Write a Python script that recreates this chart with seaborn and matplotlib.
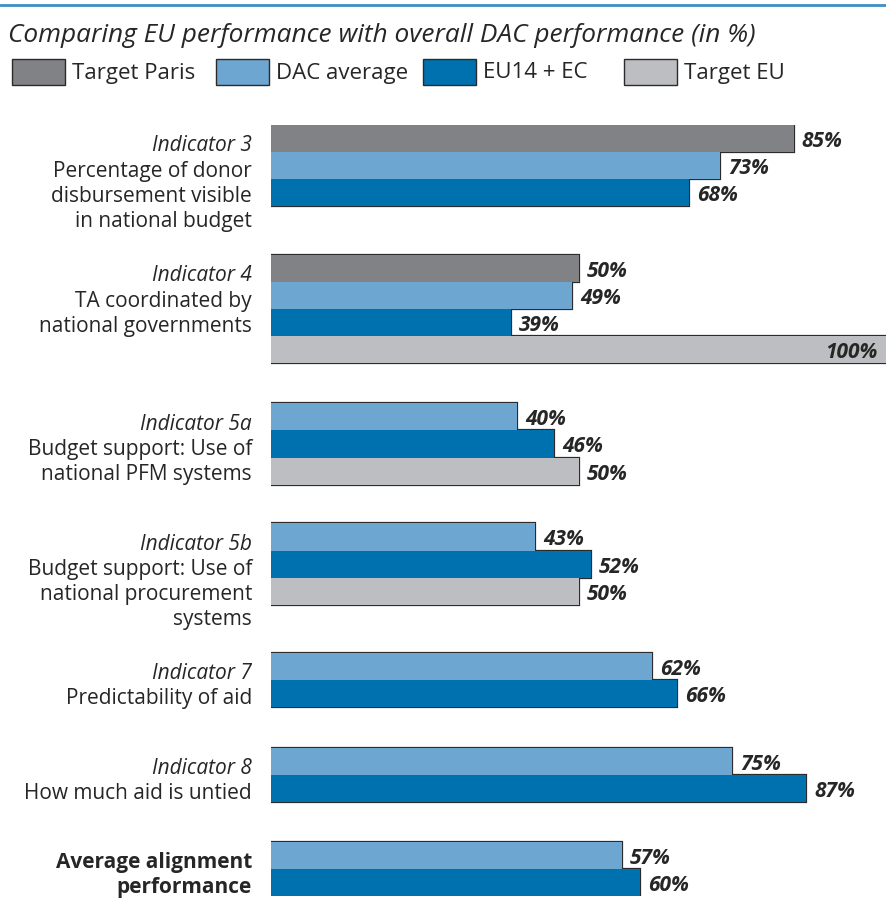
import matplotlib
matplotlib.use("Agg")
import matplotlib.pyplot as plt
from matplotlib.patches import Rectangle
from matplotlib.lines import Line2D
import seaborn as sns
import pandas as pd

# ---------------- data ----------------
title = "Comparing EU performance with overall DAC performance (in %)"
series_names = ["Target Paris", "DAC average", "EU14 + EC", "Target EU"]
series_colors = ["#818285", "#6CA6D1", "#0071AF", "#BDBEC1"]

indicators = ["Indicator 3", "Indicator 4", "Indicator 5a", "Indicator 5b",
              "Indicator 7", "Indicator 8", ""]
descriptions = [
    ["Percentage of donor", "disbursement visible", "in national budget"],
    ["TA coordinated by", "national governments"],
    ["Budget support: Use of", "national PFM systems"],
    ["Budget support: Use of", "national procurement", "systems"],
    ["Predictability of aid"],
    ["How much aid is untied"],
    ["Average alignment", "performance"],
]
target_paris = [85, 50, None, None, None, None, None]
dac_average = [73, 49, 40, 43, 62, 75, 57]
eu14_ec = [68, 39, 46, 52, 66, 87, 60]
target_eu = [None, 100, 50, 50, None, None, None]

# layout: top of each group in bar-height units
group_starts = [0.0, 4.81, 10.30, 14.74, 19.52, 23.04, 26.52]

# ---------------- build table ----------------
all_series = [target_paris, dac_average, eu14_ec, target_eu]
rows = []
for g in range(len(indicators)):
    k = 0
    for s, vals in enumerate(all_series):
        v = vals[g]
        if v is None:
            continue
        rows.append({"pos": round(group_starts[g] + k + 0.5, 4), "value": v,
                     "series": series_names[s], "group": g})
        k += 1
df = pd.DataFrame(rows)

sns.set_style("white")
plt.rcParams["font.family"] = ["Open Sans", "DejaVu Sans"]

TXT = "#262626"
W, H = 886, 908
fig = plt.figure(figsize=(W / 100, H / 100), dpi=100)
ax_top, ax_bot, ax_left = 125, 896, 271
ax = fig.add_axes([ax_left / W, 1 - ax_bot / H, 1 - ax_left / W, (ax_bot - ax_top) / H])

palette = dict(zip(series_names, series_colors))
common = dict(data=df, x="value", y="pos", hue="series", hue_order=series_names,
              palette=palette, orient="h", native_scale=True, dodge=False,
              width=1.0, errorbar=None, legend=False, saturation=1, ax=ax)
# outline pass, then fill pass (leaves only the outer outline visible)
sns.barplot(edgecolor="#2b2b2b", linewidth=1.6, **common)
sns.barplot(linewidth=0, **common)

ymax = group_starts[-1] + 2
ax.set_xlim(0, 100)
ax.set_ylim(ymax, 0)
ax.set_axis_off()

px = 72 / 100  # points per pixel

# value labels
for _, r in df.iterrows():
    v = r["value"]
    if v >= 100:
        ax.annotate(f"{v}%", xy=(v, r["pos"]), xytext=(-8 * px, -3 * px),
                    textcoords="offset points", ha="right", va="center",
                    fontsize=15, fontweight="bold", style="italic", color=TXT)
    else:
        ax.annotate(f"{v}%", xy=(v, r["pos"]), xytext=(8 * px, -3 * px),
                    textcoords="offset points", ha="left", va="center",
                    fontsize=15, fontweight="bold", style="italic", color=TXT)

# category labels on the left
line_step = 25.2 / 27
for g, (ind, desc) in enumerate(zip(indicators, descriptions)):
    y0 = group_starts[g] + 0.5 + 0.27
    lines = []
    if ind:
        lines.append((ind, "italic", "normal"))
        lines += [(d, "normal", "normal") for d in desc]
    else:
        lines += [(d, "normal", "bold") for d in desc]
    for i, (txt, st, wt) in enumerate(lines):
        ax.annotate(txt, xy=(0, y0 + i * line_step), xytext=(-19 * px, 0),
                    textcoords="offset points", ha="right", va="center",
                    fontsize=15, style=st, fontweight=wt, color=TXT,
                    annotation_clip=False)

# top rule and title
fig.add_artist(Line2D([0, 1], [1 - 5 / H, 1 - 5 / H], transform=fig.transFigure,
                      color="#3E8DC5", lw=2))
fig.text(8 / W, 1 - 35 / H, title, ha="left", va="center", fontsize=18.9,
         style="italic", color=TXT)

# legend
leg_x = [12, 216, 423, 624]
for x0, name, col in zip(leg_x, series_names, series_colors):
    fig.add_artist(Rectangle((x0 / W, 1 - 85 / H), 53 / W, 26 / H,
                             transform=fig.transFigure, facecolor=col,
                             edgecolor="#2b2b2b", linewidth=1))
    fig.text((x0 + 60) / W, 1 - 73 / H, name, ha="left", va="center",
             fontsize=16, color=TXT)

fig.savefig("out.png", dpi=100)
